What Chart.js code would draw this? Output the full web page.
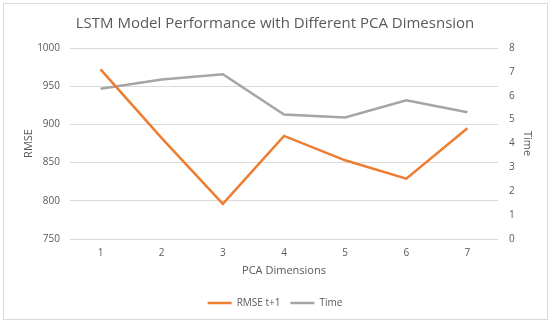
<!DOCTYPE html>
<html>
<head>
<meta charset="utf-8">
<script src="https://cdn.jsdelivr.net/npm/chart.js@4"></script>
<style>
  html, body { margin: 0; padding: 0; background: #fff; }
  #wrap { position: relative; width: 550px; height: 323px; }
  #frame {
    position: absolute; left: 3px; top: 3px; width: 543px; height: 315px;
    border: 1px solid #d9d9d9; pointer-events: none;
  }
</style>
</head>
<body>
<div id="wrap">
  <canvas id="chart" width="550" height="323"></canvas>
  <div id="frame"></div>
</div>
<script>
const dimensions = ["1", "2", "3", "4", "5", "6", "7"];
const rmse = [972, 882, 796, 885, 853, 829, 895];
const time = [6.29, 6.68, 6.9, 5.21, 5.09, 5.81, 5.31];
const rmseTicks = [750, 1000, 50];
const timeTicks = [0, 8, 1];

const FONT = "'Open Sans', sans-serif";
const GREY_TEXT = "#595959";
const ORANGE = "#ED7D31";
const GREY = "#A5A5A5";

const ctx = document.getElementById("chart").getContext("2d");

const cfg = {
  type: "line",
  data: {
    labels: dimensions,
    datasets: [
      {
        label: "RMSE t+1",
        data: rmse,
        yAxisID: "y",
        borderColor: ORANGE,
        backgroundColor: ORANGE,
        borderWidth: 2.5,
        pointRadius: 0,
        tension: 0,
        fill: false,
      },
      {
        label: "Time",
        data: time,
        yAxisID: "y1",
        borderColor: GREY,
        backgroundColor: GREY,
        borderWidth: 2.5,
        pointRadius: 0,
        tension: 0,
        fill: false,
      },
    ],
  },
  options: {
    responsive: false,
    animation: false,
    layout: { padding: { left: 0, right: 0, top: 0, bottom: 5 } },
    scales: {
      x: {
        offset: true,
        grid: { display: false, drawTicks: false },
        border: { display: false },
        ticks: { color: GREY_TEXT, font: { family: FONT, size: 10 }, padding: 8 },
        title: {
          display: true,
          text: "PCA Dimensions",
          color: GREY_TEXT,
          font: { family: FONT, size: 11 },
          padding: { top: 0, bottom: 11 },
        },
        afterFit: (s) => { s.height = 49; },
      },
      y: {
        position: "left",
        min: rmseTicks[0],
        max: rmseTicks[1],
        ticks: {
          stepSize: rmseTicks[2],
          color: GREY_TEXT,
          font: { family: FONT, size: 10 },
          padding: 10,
          callback: (v) => String(v),
        },
        grid: { color: "#d9d9d9", lineWidth: 1, drawTicks: false },
        border: { display: false },
        title: {
          display: true,
          text: "RMSE",
          color: GREY_TEXT,
          font: { family: FONT, size: 11 },
          padding: { top: 22, bottom: 0 },
        },
        afterFit: (s) => { s.width = 70; },
      },
      y1: {
        position: "right",
        min: timeTicks[0],
        max: timeTicks[1],
        ticks: {
          stepSize: timeTicks[2],
          color: GREY_TEXT,
          font: { family: FONT, size: 10 },
          padding: 11,
        },
        grid: { display: false, drawTicks: false },
        border: { display: false },
        title: {
          display: true,
          text: "Time",
          color: GREY_TEXT,
          font: { family: FONT, size: 11 },
          padding: { top: 16, bottom: 0 },
        },
        afterFit: (s) => { s.width = 52; },
      },
    },
    plugins: {
      title: {
        display: true,
        text: "LSTM Model Performance with Different PCA Dimesnsion",
        color: GREY_TEXT,
        font: { family: FONT, size: 15, weight: "normal" },
        padding: { top: 15, bottom: 15 },
      },
      legend: {
        position: "bottom",
        labels: {
          color: GREY_TEXT,
          font: { family: FONT, size: 10 },
          usePointStyle: true,
          pointStyle: "line",
          pointStyleWidth: 24,
          padding: 10,
        },
      },
      tooltip: { enabled: false },
    },
  },
};

new Chart(ctx, cfg);
</script>
</body>
</html>
